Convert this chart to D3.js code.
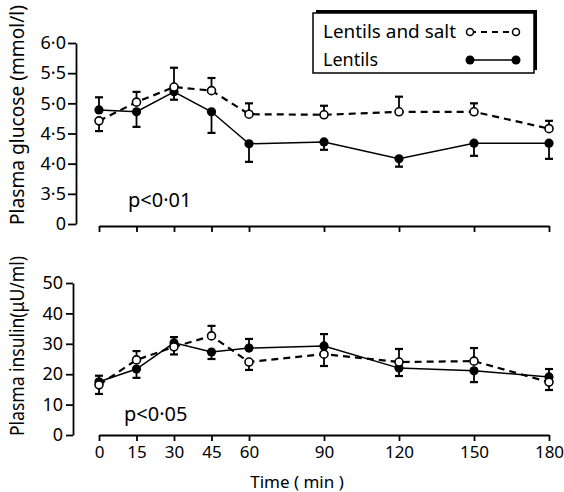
<!DOCTYPE html>
<html>
<head>
<meta charset="utf-8">
<script src="https://cdn.jsdelivr.net/npm/d3@7"></script>
<style>
    body { margin: 0; background: #fff; }
    svg text { font-family: 'Noto Sans', sans-serif; fill: #000; }
    .axis path, .axis line { stroke: #000; stroke-width: 1.8; }
</style>
</head>
<body>
<div id="chart"></div>
<script>
// time points (min)
var times = [0, 15, 30, 45, 60, 90, 120, 150, 180];

// plasma glucose (mmol/l)
var glucoseSalt = [4.71, 5.02, 5.27, 5.21, 4.82, 4.81, 4.86, 4.86, 4.58];
var glucoseSaltSem = [0.17, 0.17, 0.32, 0.21, 0.18, 0.15, 0.25, 0.14, 0.13];
var glucoseSaltDir = [-1, 1, 1, 1, 1, 1, 1, 1, 1];
var glucoseLentils = [4.89, 4.86, 5.19, 4.86, 4.33, 4.36, 4.08, 4.34, 4.34];
var glucoseLentilsSem = [0.21, 0.25, 0.13, 0.35, 0.30, 0.13, 0.13, 0.21, 0.26];
var glucoseLentilsDir = [1, -1, -1, -1, -1, -1, -1, -1, -1];

// plasma insulin (uU/ml)
var insulinSalt = [16.5, 24.7, 29.0, 32.6, 24.0, 26.6, 24.0, 24.3, 17.4];
var insulinSaltSem = [3.0, 2.9, 2.5, 3.3, 2.6, 3.9, 4.3, 4.3, 2.6];
var insulinSaltDir = [-1, 1, -1, 1, -1, -1, 1, 1, -1];
var insulinLentils = [17.5, 21.7, 30.3, 27.3, 28.6, 29.3, 22.0, 21.1, 19.1];
var insulinLentilsSem = [2.0, 2.9, 1.9, 2.3, 3.0, 3.9, 2.6, 3.7, 2.6];
var insulinLentilsDir = [1, -1, 1, -1, 1, 1, -1, -1, 1];

// tick labels (glucose axis is broken: bottom tick reads 0)
var glucoseTicks = [3, 3.5, 4, 4.5, 5, 5.5, 6];
var glucoseTickLabels = ['0', '3\u00b75', '4\u00b70', '4\u00b75', '5\u00b70', '5\u00b75', '6\u00b70'];
var insulinTicks = [0, 10, 20, 30, 40, 50];

var seriesNames = ['Lentils and salt', 'Lentils'];

var width = 564;
var height = 492;

var svg = d3.select('#chart').append('svg')
    .attr('width', width)
    .attr('height', height);

var xScale = d3.scaleLinear().domain([0, 180]).range([99, 549]);
var yGlucose = d3.scaleLinear().domain([3, 6]).range([224, 43]);
var yInsulin = d3.scaleLinear().domain([0, 50]).range([435, 283]);

// ---- top panel axes
var gy1 = svg.append('g')
    .attr('class', 'axis')
    .attr('transform', 'translate(76,0)')
    .call(d3.axisLeft(yGlucose)
        .tickValues(glucoseTicks)
        .tickFormat(function(d, i) { return glucoseTickLabels[i]; })
        .tickSize(8).tickSizeOuter(0).tickPadding(2));
gy1.selectAll('text').style('font-size', '18px');

svg.append('g')
    .attr('class', 'axis')
    .attr('transform', 'translate(0,226)')
    .call(d3.axisBottom(xScale)
        .tickValues(times)
        .tickFormat('')
        .tickSize(6).tickSizeOuter(0));

// ---- bottom panel axes
var gy2 = svg.append('g')
    .attr('class', 'axis')
    .attr('transform', 'translate(73,0)')
    .call(d3.axisLeft(yInsulin)
        .tickValues(insulinTicks)
        .tickSize(7).tickSizeOuter(0).tickPadding(3));
gy2.selectAll('text').style('font-size', '18px');

var gx2 = svg.append('g')
    .attr('class', 'axis')
    .attr('transform', 'translate(0,435)')
    .call(d3.axisBottom(xScale)
        .tickValues(times)
        .tickSize(6).tickSizeOuter(0).tickPadding(5));
gx2.selectAll('text').style('font-size', '17px');

// axis titles
svg.append('text')
    .attr('transform', 'translate(24,225) rotate(-90)')
    .attr('textLength', 220)
    .attr('lengthAdjust', 'spacingAndGlyphs')
    .style('font-size', '19px')
    .text('Plasma glucose (mmol/l)');
svg.append('text')
    .attr('transform', 'translate(24,436) rotate(-90)')
    .attr('textLength', 180)
    .attr('lengthAdjust', 'spacingAndGlyphs')
    .style('font-size', '19px')
    .text('Plasma insulin(\u03bcU/ml)');
svg.append('text')
    .attr('x', 297).attr('y', 488)
    .attr('text-anchor', 'middle')
    .style('font-size', '17px')
    .text('Time  ( min )');

// p-values
svg.append('text')
    .attr('x', 128).attr('y', 207)
    .style('font-size', '20px')
    .text('p<0\u00b701');
svg.append('text')
    .attr('x', 124).attr('y', 421)
    .style('font-size', '20px')
    .text('p<0\u00b705');

function drawSeries(yScale, values, sem, dir, open) {
    var pts = times.map(function(t, i) {
        return { t: t, v: values[i], e: values[i] + dir[i] * sem[i] };
    });
    var line = d3.line()
        .x(function(d) { return xScale(d.t); })
        .y(function(d) { return yScale(d.v); });
    svg.append('path')
        .datum(pts)
        .attr('d', line)
        .attr('fill', 'none')
        .attr('stroke', '#000')
        .attr('stroke-width', open ? 2.2 : 1.5)
        .attr('stroke-dasharray', open ? '7,5' : null);
    var bars = svg.append('g');
    bars.selectAll('.err')
        .data(pts).enter()
        .append('line')
        .attr('x1', function(d) { return xScale(d.t); })
        .attr('x2', function(d) { return xScale(d.t); })
        .attr('y1', function(d) { return yScale(d.v); })
        .attr('y2', function(d) { return yScale(d.e); })
        .attr('stroke', '#000').attr('stroke-width', 1.8);
    bars.selectAll('.cap')
        .data(pts).enter()
        .append('line')
        .attr('x1', function(d) { return xScale(d.t) - 4; })
        .attr('x2', function(d) { return xScale(d.t) + 4; })
        .attr('y1', function(d) { return yScale(d.e); })
        .attr('y2', function(d) { return yScale(d.e); })
        .attr('stroke', '#000').attr('stroke-width', 2.2);
    svg.append('g').selectAll('circle')
        .data(pts).enter()
        .append('circle')
        .attr('cx', function(d) { return xScale(d.t); })
        .attr('cy', function(d) { return yScale(d.v); })
        .attr('r', open ? 4 : 4.6)
        .attr('fill', open ? '#fff' : '#000')
        .attr('stroke', '#000')
        .attr('stroke-width', open ? 1.6 : 0);
}

drawSeries(yGlucose, glucoseLentils, glucoseLentilsSem, glucoseLentilsDir, false);
drawSeries(yGlucose, glucoseSalt, glucoseSaltSem, glucoseSaltDir, true);
drawSeries(yInsulin, insulinLentils, insulinLentilsSem, insulinLentilsDir, false);
drawSeries(yInsulin, insulinSalt, insulinSaltSem, insulinSaltDir, true);

// legend box with shadow
var legend = svg.append('g');
legend.append('rect')
    .attr('x', 316).attr('y', 10)
    .attr('width', 221).attr('height', 60)
    .attr('fill', '#000');
legend.append('rect')
    .attr('x', 313).attr('y', 13)
    .attr('width', 221).attr('height', 60)
    .attr('fill', '#fff')
    .attr('stroke', '#000')
    .attr('stroke-width', 1.5);
legend.append('text')
    .attr('x', 323).attr('y', 38)
    .attr('textLength', 133)
    .attr('lengthAdjust', 'spacingAndGlyphs')
    .style('font-size', '18px')
    .text(seriesNames[0]);
legend.append('text')
    .attr('x', 323).attr('y', 66)
    .style('font-size', '18px')
    .text(seriesNames[1]);
legend.append('line')
    .attr('x1', 470).attr('x2', 516).attr('y1', 32).attr('y2', 32)
    .attr('stroke', '#000').attr('stroke-width', 2)
    .attr('stroke-dasharray', '6,5');
legend.append('line')
    .attr('x1', 470).attr('x2', 516).attr('y1', 60).attr('y2', 60)
    .attr('stroke', '#000').attr('stroke-width', 1.5);
legend.selectAll('.lo').data([470, 516]).enter()
    .append('circle')
    .attr('cx', function(d) { return d; }).attr('cy', 32).attr('r', 3.5)
    .attr('fill', '#fff').attr('stroke', '#000').attr('stroke-width', 1.5);
legend.selectAll('.lf').data([470, 516]).enter()
    .append('circle')
    .attr('cx', function(d) { return d; }).attr('cy', 60).attr('r', 4.5)
    .attr('fill', '#000');
</script>
</body>
</html>
